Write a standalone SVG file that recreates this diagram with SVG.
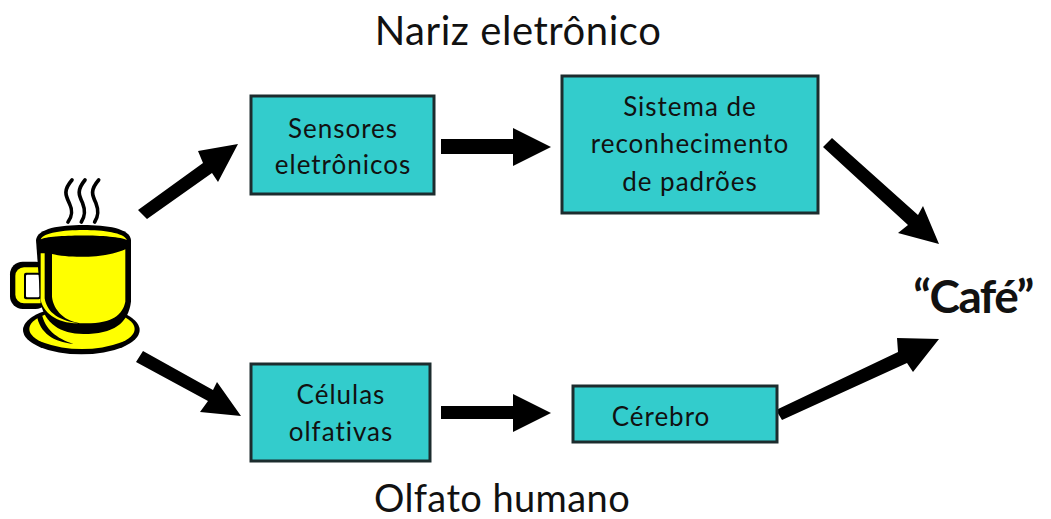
<svg xmlns="http://www.w3.org/2000/svg" width="1051" height="519" viewBox="0 0 1051 519">
<style>
.box{fill:#33cccc;stroke:#1c2c2e;stroke-width:3}
.t{font-family:"Lato","Open Sans",sans-serif;fill:#111;text-anchor:middle}
.b{font-size:26px;letter-spacing:1px}
.ar{fill:#000}
.y{fill:#ffff00}
.k{fill:#000}
.s{fill:none;stroke:#000;stroke-width:11;stroke-linecap:round}
</style>
<rect width="1051" height="519" fill="#fff"/>
<g id="cup" transform="translate(0,160) scale(.3333)">
<g class="s"><path d="M216 60C190 90 196 105 208 130C220 155 216 170 204 186"/><path d="M255 60C230 90 236 105 248 130C258 155 254 170 244 186"/><path d="M296 60C270 90 276 105 288 130C298 155 294 170 284 186"/></g>
<ellipse class="k" cx="244" cy="510" rx="175" ry="73"/>
<ellipse class="y" cx="246" cy="507" rx="158" ry="60"/>
<path d="M110 465C120 520 160 545 220 552C170 535 135 510 125 460Z" fill="#000"/>
<rect class="k" x="30" y="305" width="115" height="142" rx="38"/>
<rect class="y" x="46" y="322" width="100" height="108" rx="26"/>
<rect x="72" y="338" width="50" height="80" rx="6" fill="#000"/>
<rect x="78" y="344" width="40" height="68" rx="4" fill="#fff"/>
<path class="k" d="M108 240C112 205 180 195 250 195C320 195 390 205 393 240L393 425C385 490 340 522 250 522C180 522 135 490 122 430Z"/>
<path class="y" d="M122 238C130 218 190 210 250 210C310 210 372 218 381 240C350 222 150 222 122 238Z"/>
<path class="y" d="M156 282C210 295 320 295 376 268L376 425C368 465 335 492 250 490C195 488 160 450 156 410Z"/>
<path class="y" d="M122 280L134 280L134 415C140 450 165 480 235 490C165 490 130 455 122 420Z"/>
</g>
<g id="connectors" class="ar">
<polygon points="138,210 203,163 198,151 238,144 218,182 212,173 147,219"/>
<polygon points="143,351 136,362 208,401 200,412 241,416 217,382 213,390"/>
<polygon points="441,139 513,139 513,128 551,147 513,166 513,154 441,154"/>
<polygon points="441,406 513,406 513,394 551,413 513,432 513,419 441,419"/>
<polygon points="823,147 832,138 918,215 923,206 939,244 898,233 908,225"/>
<polygon points="776,410 782,420 907,363 913,372 939,339 897,338 898,352"/>
</g>
<g id="sensores"><rect class="box" x="251" y="96" width="183" height="98"/><text class="t b" x="343" y="138">Sensores</text><text class="t b" x="343" y="174">eletrônicos</text></g>
<g id="sistema"><rect class="box" x="562" y="76" width="256" height="137"/><text class="t b" x="690" y="116">Sistema de</text><text class="t b" x="690" y="153">reconhecimento</text><text class="t b" x="690" y="191">de padrões</text></g>
<g id="celulas"><rect class="box" x="251" y="364" width="179" height="97"/><text class="t b" x="341" y="404">Células</text><text class="t b" x="341" y="441">olfativas</text></g>
<g id="cerebro"><rect class="box" x="573" y="386" width="204" height="56"/><text class="t b" x="661" y="426">Cérebro</text></g>
<g id="labels">
<text class="t" x="518" y="45" font-size="40" letter-spacing=".55">Nariz eletrônico</text>
<text class="t" x="502" y="512" font-size="38" letter-spacing=".4">Olfato humano</text>
<text class="t" x="973" y="313" font-size="46" font-weight="700" letter-spacing="-1.5">“Café”</text>
</g>
</svg>
